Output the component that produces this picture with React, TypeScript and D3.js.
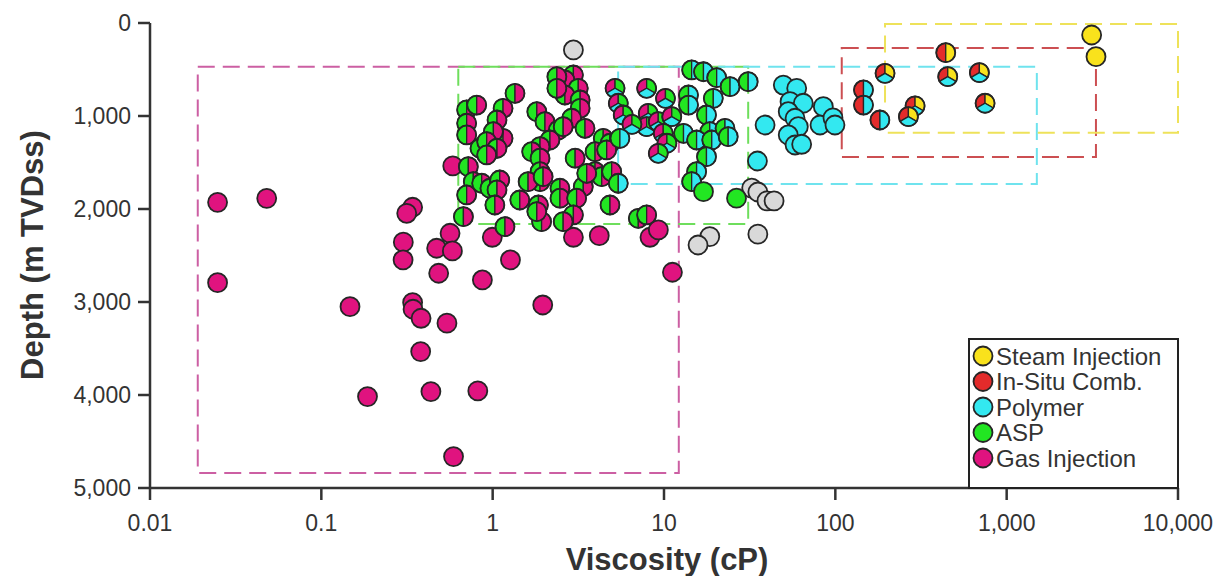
import React from 'react'
import * as d3 from 'd3'

// viscosity (cP), depth (m TVDss)
const gasInjection = [
  [0.0248, 1928], [0.048, 1885], [0.0248, 2792], [0.341, 1981], [0.315, 2046], [0.301, 2357],
  [0.3, 2548], [0.564, 2261], [0.471, 2422], [0.582, 2451], [0.484, 2691], [0.871, 2763],
  [0.995, 2304], [1.27, 2548], [0.585, 1537], [0.147, 3050], [0.341, 3006], [0.343, 3078],
  [0.382, 3175], [0.541, 3228], [1.96, 3032], [0.38, 3533], [0.186, 4017], [0.436, 3963],
  [0.819, 3956], [0.591, 4662], [2.96, 2304], [4.19, 2287], [8.28, 2304], [9.27, 2225], [11.2, 2680],
]
const unassigned = [
  [2.96, 290], [32.5, 1775], [35.3, 1817], [39.9, 1913], [43.9, 1913], [35.3, 2271], [18.5, 2297], [15.8, 2387],
]
const aspGas = [
  [1.35, 756], [0.705, 935], [0.807, 882], [0.705, 1078], [0.705, 1204], [1.15, 917], [1.06, 1043],
  [1.15, 1240], [1.01, 1169], [0.843, 1347], [0.923, 1276], [1.06, 1347], [0.923, 1419], [1.81, 954],
  [2.02, 1061], [2.42, 1150], [2.16, 1258], [1.89, 1330], [1.69, 1384], [1.89, 1454], [1.89, 1599],
  [1.89, 1706], [1.61, 1706], [0.721, 1545], [0.771, 1706], [0.863, 1723], [0.964, 1777], [1.1, 1688],
  [1.06, 1795], [0.705, 1849], [1.03, 1957], [1.44, 1903], [1.85, 1957], [2.47, 1777], [2.47, 1884],
  [1.93, 2136], [0.675, 2082], [1.18, 2190],
  [2.96, 559], [2.64, 613], [3.16, 702], [2.64, 774], [3.24, 828], [3.24, 917], [2.89, 1024],
  [3.46, 1132], [2.58, 1115], [4.42, 1240], [4.84, 1293], [3.96, 1384], [4.63, 1365], [3.03, 1454],
  [3.96, 1599], [4.33, 1652], [4.95, 1599], [3.38, 1760], [3.09, 1884], [4.84, 1957], [2.96, 2064],
  [2.58, 2136], [7.08, 2100], [7.92, 2064], [2.37, 577], [2.37, 702], [1.97, 1652], [1.81, 2028], [3.54, 1616],
]
const gasAspPolymer = [
  [5.18, 702], [7.92, 702], [5.41, 863], [10.2, 810], [5.78, 989], [8.09, 971], [7.92, 1115],
  [9.26, 1061], [11.1, 1007], [9.9, 1186], [10.4, 1293], [9.26, 1401], [6.5, 1090],
]
const aspPolymer = [
  [14.5, 505], [17.0, 524], [20.3, 588], [24.3, 685], [31.0, 631], [13.9, 774], [13.9, 882],
  [19.4, 810], [17.7, 989], [18.5, 1169], [13.0, 1186], [15.5, 1258], [19.0, 1258], [22.7, 1132],
  [23.7, 1222], [17.7, 1437], [15.5, 1599], [14.5, 1706], [5.53, 1240], [5.41, 1723],
]
const asp = [[17.0, 1814], [26.5, 1884]]
const polymer = [
  [38.9, 1097], [35.1, 1484], [49.7, 667], [59.5, 702], [54.4, 846], [65.0, 863], [53.1, 954],
  [58.2, 1024], [60.8, 1115], [53.1, 1204], [58.2, 1312], [63.6, 1304], [85.1, 900], [81.4, 1097],
  [96.9, 1021], [99.5, 1097],
]
const iscPolymer = [[146, 720], [146, 882], [182, 1043]]
const iscSteam = [[441, 319]]
const iscSteamPolymer = [[195, 541], [453, 577], [693, 534], [748, 863], [292, 892], [267, 1007]]
const steam = [[3133, 129], [3322, 362]]

// screening windows: [vMin, vMax, dMin, dMax]
const windowGas = [0.019, 12.2, 470, 4840]
const windowAsp = [0.63, 31, 470, 2160]
const windowPolymer = [5.4, 1500, 470, 1730]
const windowIsc = [109, 3320, 270, 1440]
const windowSteam = [195, 10000, 10, 1180]

const xTicks = [0.01, 0.1, 1, 10, 100, 1000, 10000]
const xTickLabels = ['0.01', '0.1', '1', '10', '100', '1,000', '10,000']
const yTicks = [0, 1000, 2000, 3000, 4000, 5000]
const yTickLabels = ['0', '1,000', '2,000', '3,000', '4,000', '5,000']

const legendNames = ['Steam Injection', 'In-Situ Comb.', 'Polymer', 'ASP', 'Gas Injection']

const C = {
  steam: '#f9e21c',
  isc: '#e32b2b',
  polymer: '#33e8f0',
  asp: '#22e622',
  gas: '#e0137f',
  grey: '#d9d9d9',
}
const legendColors = [C.steam, C.isc, C.polymer, C.asp, C.gas]

const x = d3.scaleLog().domain([0.01, 10000]).range([150, 1178])
const y = d3.scaleLinear().domain([0, 5000]).range([23, 488])

const R = 9.5
const arc = d3.arc()
const sector = (a0, a1) => arc({ innerRadius: 0, outerRadius: R, startAngle: a0, endAngle: a1 })
const halves = [sector(Math.PI, 2 * Math.PI), sector(0, Math.PI)]
const thirds = [
  sector(-(2 * Math.PI) / 3, 0),
  sector(0, (2 * Math.PI) / 3),
  sector((2 * Math.PI) / 3, (4 * Math.PI) / 3),
]

const stroke = '#262626'

function Marker({ d, colors }) {
  const tx = `translate(${x(d[0])},${y(d[1])})`
  if (colors.length === 1) {
    return <circle transform={tx} r={R} fill={colors[0]} stroke={stroke} strokeWidth={1.8} />
  }
  const parts = colors.length === 2 ? halves : thirds
  return (
    <g transform={tx}>
      {parts.map((p, i) => (
        <path key={i} d={p} fill={colors[i]} stroke={stroke} strokeWidth={1.3} />
      ))}
      <circle r={R} fill="none" stroke={stroke} strokeWidth={1.8} />
    </g>
  )
}

function Window({ w, color }) {
  return (
    <rect
      x={x(w[0])}
      y={y(w[2])}
      width={x(w[1]) - x(w[0])}
      height={y(w[3]) - y(w[2])}
      fill="none"
      stroke={color}
      strokeWidth={2}
      strokeDasharray="17 8"
    />
  )
}

const groups = [
  { data: unassigned, colors: [C.grey] },
  { data: gasInjection, colors: [C.gas] },
  { data: aspGas, colors: [C.asp, C.gas] },
  { data: gasAspPolymer, colors: [C.gas, C.asp, C.polymer] },
  { data: aspPolymer, colors: [C.asp, C.polymer] },
  { data: asp, colors: [C.asp] },
  { data: polymer, colors: [C.polymer] },
  { data: iscPolymer, colors: [C.isc, C.polymer] },
  { data: iscSteam, colors: [C.isc, C.steam] },
  { data: iscSteamPolymer, colors: [C.isc, C.steam, C.polymer] },
  { data: steam, colors: [C.steam] },
]

export default function App() {
  const font = "'Liberation Sans', Arial, sans-serif"
  return (
    <svg width={1225} height={576} style={{ position: 'absolute', left: 0, top: 0, background: '#fff' }} fontFamily={font}>
      <Window w={windowGas} color="#cc5fa3" />
      <Window w={windowAsp} color="#6ede5c" />
      <Window w={windowPolymer} color="#6fe3ee" />
      <Window w={windowIsc} color="#cc4f52" />
      <Window w={windowSteam} color="#eee25a" />

      {groups.map((g, gi) => (
        <g key={gi}>
          {g.data.map((d, i) => (
            <Marker key={i} d={d} colors={g.colors} />
          ))}
        </g>
      ))}

      {/* axes */}
      <g stroke="#333" strokeWidth={2.5} fill="none">
        <line x1={x.range()[0]} x2={x.range()[0]} y1={y.range()[0]} y2={y.range()[1]} />
        <line x1={x.range()[0] - 1} x2={x.range()[1]} y1={y.range()[1]} y2={y.range()[1]} />
        {yTicks.map((t) => (
          <line key={t} x1={x.range()[0] - 12} x2={x.range()[0]} y1={y(t)} y2={y(t)} />
        ))}
        {xTicks.map((t) => (
          <line key={t} x1={x(t)} x2={x(t)} y1={y.range()[1]} y2={y.range()[1] + 12} />
        ))}
      </g>
      {yTicks.map((t, i) => (
        <text key={t} x={131} y={y(t)} dy="0.36em" textAnchor="end" fontSize={23} fill="#333">
          {yTickLabels[i]}
        </text>
      ))}
      {xTicks.map((t, i) => (
        <text key={t} x={x(t)} y={531} textAnchor="middle" fontSize={23} fill="#333">
          {xTickLabels[i]}
        </text>
      ))}
      <text x={667} y={570} textAnchor="middle" fontSize={31} fontWeight="bold" fill="#333">
        Viscosity (cP)
      </text>
      <text
        transform="translate(43,255) rotate(-90)"
        textAnchor="middle"
        fontSize={31}
        fontWeight="bold"
        fill="#333"
      >
        Depth (m TVDss)
      </text>

      {/* legend */}
      <rect x={969} y={339} width={209} height={149} fill="#fff" stroke="#222" strokeWidth={2} />
      {legendNames.map((n, i) => (
        <g key={n} transform={`translate(983,${356 + i * 25.5})`}>
          <circle r={9.5} fill={legendColors[i]} stroke={stroke} strokeWidth={1.8} />
          <text x={13} dy="0.36em" fontSize={24} fill="#333">
            {n}
          </text>
        </g>
      ))}
    </svg>
  )
}
